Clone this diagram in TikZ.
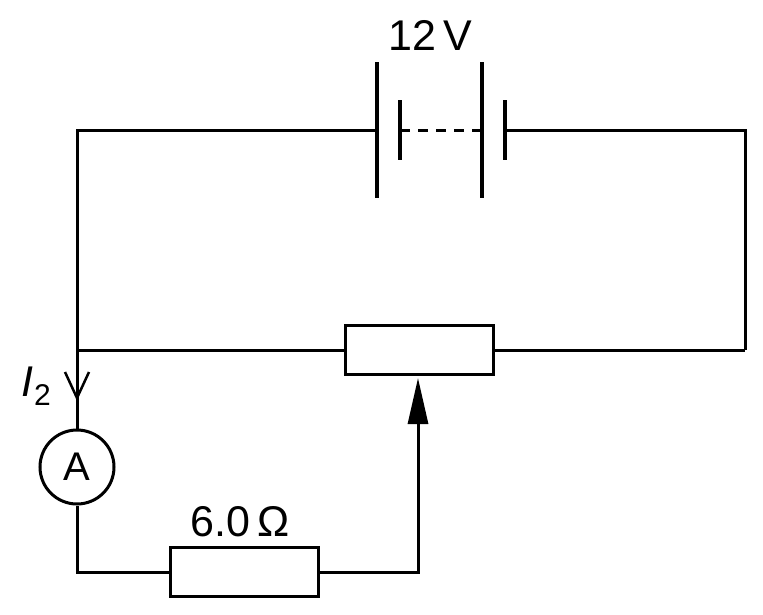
\documentclass[tikz,border=0pt]{standalone}
\usepackage{fontspec}
\setmainfont{Liberation Sans}
\usetikzlibrary{arrows.meta}
\begin{document}
\begin{tikzpicture}[x=1pt,y=-1pt,line width=3pt,
  wire/.style={line width=3pt},
  plate/.style={line width=3.5pt},
  box/.style={draw,line width=3pt,minimum width=148pt,minimum height=49pt,inner sep=0},
  lbl/.style={font=\fontsize{43}{46}\selectfont,inner sep=0}]
\useasboundingbox (0,0) rectangle (763,614);
% battery
\coordinate (p1t) at (377,62); \coordinate (p1b) at (377,198);
\coordinate (s1t) at (400,100); \coordinate (s1b) at (400,160);
\coordinate (p2t) at (482,62); \coordinate (p2b) at (482,198);
\coordinate (s2t) at (505,100); \coordinate (s2b) at (505,160);
\draw[plate] (p1t) -- (p1b); \draw[plate] (s1t) -- (s1b);
\draw[plate] (p2t) -- (p2b); \draw[plate] (s2t) -- (s2b);
\coordinate (d1) at (400,130); \coordinate (d2) at (482,130);
\draw[wire,dash pattern=on 10pt off 8pt] (d1) -- (d2);
\node[lbl] (V) at (430,35) {12\,V};
% corners
\coordinate (tl) at (77,130); \coordinate (tr) at (745,130);
\coordinate (ml) at (77,350); \coordinate (mr) at (745,350);
\coordinate (b1) at (377,130); \coordinate (b2) at (505,130);
\draw[wire] (b1) -- (tl) -- (ml);
\draw[wire] (b2) -- (tr) -- (mr);
\node[box] (rh) at (419,350) {};
\draw[wire] (ml) -- (rh.west); \draw[wire] (rh.east) -- (mr);
% ammeter
\node[draw,circle,line width=3pt,minimum size=74pt,inner sep=0,font=\fontsize{40}{42}\selectfont] (A) at (77,467) {A};
\draw[wire] (ml) -- (A.north);
\coordinate (ia) at (77,398);
\draw[line width=2.5pt] (65,372) -- (ia) -- (89,372);
\node[font=\fontsize{43}{46}\selectfont\itshape,inner sep=0] (I) at (36,386) {I\kern1pt\raisebox{-9pt}{\upshape\fontsize{30}{32}\selectfont 2}};
% bottom
\node[box] (R) at (244,572) {};
\node[lbl] (Rl) at (240,522) {6.0\,Ω};
\coordinate (bl) at (77,572); \coordinate (br) at (418,572);
\draw[wire] (A.south) -- (bl) -- (R.west);
\coordinate (tip) at (418,378);
\draw[wire] (R.east) -- (br) -- (418,420);
\draw[-{Triangle[length=46pt,width=20pt]},wire] (br) -- (tip);
\end{tikzpicture}
\end{document}
